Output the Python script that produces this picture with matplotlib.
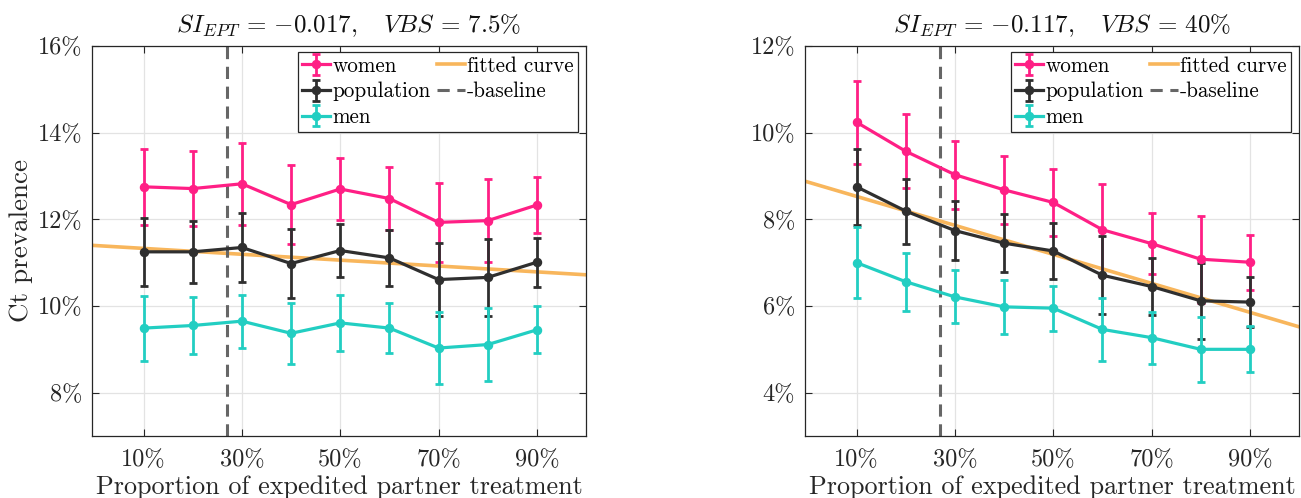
import numpy as np
import matplotlib
matplotlib.use("Agg")
import matplotlib.pyplot as plt

plt.rcParams['font.family'] = 'serif'
plt.rcParams['font.serif'] = ['cmr10']
plt.rcParams['mathtext.fontset'] = 'cm'
plt.rcParams['axes.unicode_minus'] = False

# x positions (proportion of EPT, %)
ept = [10, 20, 30, 40, 50, 60, 70, 80, 90]
xtick_vals = [10, 30, 50, 70, 90]
xtick_labels = ['10%', '30%', '50%', '70%', '90%']
baseline_x = 27

# left panel
women_l = [12.75, 12.71, 12.82, 12.34, 12.70, 12.48, 11.93, 11.97, 12.33]
women_l_err = [0.88, 0.86, 0.95, 0.91, 0.71, 0.73, 0.91, 0.95, 0.65]
pop_l = [11.25, 11.25, 11.35, 10.98, 11.28, 11.11, 10.61, 10.66, 11.01]
pop_l_err = [0.78, 0.72, 0.79, 0.79, 0.62, 0.65, 0.84, 0.89, 0.57]
men_l = [9.49, 9.55, 9.65, 9.37, 9.61, 9.49, 9.03, 9.11, 9.45]
men_l_err = [0.75, 0.65, 0.61, 0.71, 0.65, 0.58, 0.83, 0.85, 0.54]
fit_l_x = [-0.5, 100]
fit_l_y = [11.40, 10.72]
ytick_l = [8, 10, 12, 14, 16]
ytick_l_labels = ['8%', '10%', '12%', '14%', '16%']
title_l = r'$SI_{EPT}\,=\,{-}0.017,\ \ \ VBS\,=\,7.5\%$'

# right panel
women_r = [10.24, 9.57, 9.03, 8.68, 8.39, 7.76, 7.44, 7.08, 7.01]
women_r_err = [0.96, 0.85, 0.78, 0.78, 0.78, 1.06, 0.71, 1.00, 0.64]
pop_r = [8.75, 8.19, 7.74, 7.45, 7.27, 6.71, 6.45, 6.12, 6.09]
pop_r_err = [0.87, 0.75, 0.68, 0.67, 0.64, 0.90, 0.65, 0.87, 0.58]
men_r = [7.00, 6.56, 6.21, 5.98, 5.95, 5.46, 5.27, 5.00, 5.00]
men_r_err = [0.82, 0.67, 0.61, 0.62, 0.52, 0.72, 0.60, 0.75, 0.53]
fit_r_x = [-0.5, 100]
fit_r_y = [8.88, 5.52]
ytick_r = [4, 6, 8, 10, 12]
ytick_r_labels = ['4%', '6%', '8%', '10%', '12%']
title_r = r'$SI_{EPT}\,=\,{-}0.117,\ \ \ VBS\,=\,40\%$'

c_women = '#FF1F85'
c_pop = '#2F2F2F'
c_men = '#22CEC2'
c_fit = '#F8B65C'
c_base = '#666666'


def draw_panel(ax, women, women_err, pop, pop_err, men, men_err,
               fit_x, fit_y, yticks, ylabels, ylim, title):
    ax.grid(True, color='#e3e3e3', lw=0.9, zorder=0)
    ax.set_axisbelow(True)
    h_fit, = ax.plot(fit_x, fit_y, color=c_fit, lw=2.6, zorder=2)
    h_base = ax.axvline(baseline_x, color=c_base, lw=2.2, dashes=(4, 2.5), zorder=2)
    kw = dict(marker='o', ms=5.8, lw=2.3, elinewidth=2, capsize=3, capthick=2, zorder=3)
    h_w = ax.errorbar(ept, women, yerr=women_err, color=c_women, **kw)
    h_p = ax.errorbar(ept, pop, yerr=pop_err, color=c_pop, **kw)
    h_m = ax.errorbar(ept, men, yerr=men_err, color=c_men, **kw)

    ax.set_xlim(-0.5, 100)
    ax.set_ylim(*ylim)
    ax.set_xticks(xtick_vals)
    ax.set_xticklabels(xtick_labels)
    ax.set_yticks(yticks)
    ax.set_yticklabels(ylabels)
    ax.tick_params(direction='in', top=True, right=True, length=5, width=0.8,
                   labelsize=17.5, colors='#262626', pad=7)
    ax.tick_params(axis='x', pad=9)
    for s in ax.spines.values():
        s.set_color('#262626')
        s.set_linewidth(0.9)
    ax.set_xlabel('Proportion of expedited partner treatment', fontsize=18.8,
                  color='#262626', labelpad=3)
    ax.set_title(title, fontsize=18, pad=10, color='#111111', x=0.52)

    leg = ax.legend([h_w, h_p, h_m, h_fit, h_base],
                    ['women', 'population', 'men', 'fitted curve', '-baseline'],
                    ncol=2, loc='upper right', bbox_to_anchor=(0.984, 0.985),
                    borderaxespad=0, fontsize=15.2, fancybox=False, framealpha=1,
                    edgecolor='#262626', handlelength=1.33, handletextpad=0.1,
                    columnspacing=0.3, labelspacing=0.3, borderpad=0.2)
    leg.get_frame().set_linewidth(0.9)


fig = plt.figure(figsize=(13.01, 4.98), dpi=100)
ax1 = fig.add_axes([92 / 1301, 62 / 498, 494 / 1301, 390 / 498])
ax2 = fig.add_axes([805 / 1301, 62 / 498, 494 / 1301, 390 / 498])

draw_panel(ax1, women_l, women_l_err, pop_l, pop_l_err, men_l, men_l_err,
           fit_l_x, fit_l_y, ytick_l, ytick_l_labels, (7, 16), title_l)
draw_panel(ax2, women_r, women_r_err, pop_r, pop_r_err, men_r, men_r_err,
           fit_r_x, fit_r_y, ytick_r, ytick_r_labels, (3, 12), title_r)
ax1.set_ylabel('Ct prevalence', fontsize=19.5, color='#262626', labelpad=3)

fig.savefig('out.png', dpi=100)
